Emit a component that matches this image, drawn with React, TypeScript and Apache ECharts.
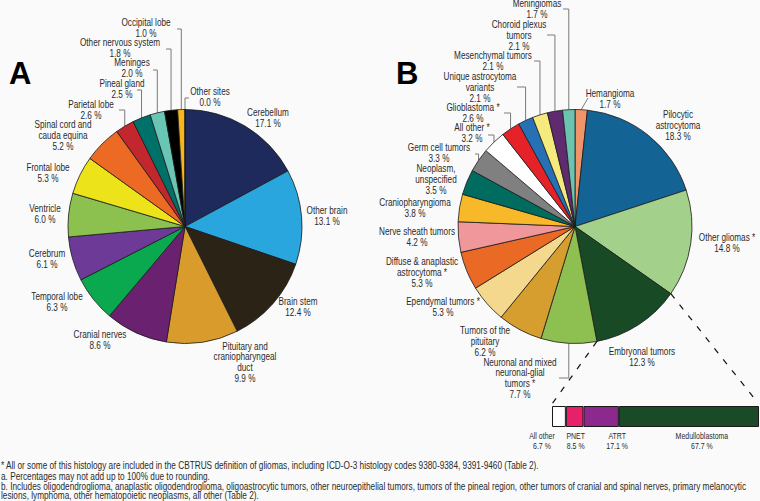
import React, { useEffect, useRef } from "react";
import * as echarts from "echarts";

// ---------- DATA ----------
const siteNames = [
  "Cerebellum",
  "Other brain",
  "Brain stem",
  "Pituitary and\ncraniopharyngeal\nduct",
  "Cranial nerves",
  "Temporal lobe",
  "Cerebrum",
  "Ventricle",
  "Frontal lobe",
  "Spinal cord and\ncauda equina",
  "Parietal lobe",
  "Pineal gland",
  "Meninges",
  "Other nervous system",
  "Occipital lobe",
  "Other sites",
];
const siteValues = [17.1, 13.1, 12.4, 9.9, 8.6, 6.3, 6.1, 6.0, 5.3, 5.2, 2.6, 2.5, 2.0, 1.8, 1.0, 0.0];
const siteColors = [
  "#1f2a5c", "#2aa6de", "#2b2316", "#d99b2b", "#6a2270", "#0aa84f", "#6e3a98", "#8cc04f",
  "#ede31b", "#ec6a24", "#c1272d", "#007168", "#6ac6b4", "#000000", "#f7b51f", "#f7b51f",
];

const histNames = [
  "Hemangioma",
  "Pilocytic\nastrocytoma",
  "Other gliomas *",
  "Embryonal tumors",
  "Neuronal and mixed\nneuronal-glial\ntumors *",
  "Tumors of the\npituitary",
  "Ependymal tumors *",
  "Diffuse & anaplastic\nastrocytoma *",
  "Nerve sheath tumors",
  "Craniopharyngioma",
  "Neoplasm,\nunspecified",
  "Germ cell tumors",
  "All other *",
  "Glioblastoma *",
  "Unique astrocytoma\nvariants",
  "Mesenchymal tumors",
  "Choroid plexus\ntumors",
  "Meningiomas",
];
const histValues = [1.7, 18.3, 14.8, 12.3, 7.7, 6.2, 5.3, 5.3, 4.2, 3.8, 3.5, 3.3, 3.2, 2.6, 2.1, 2.1, 2.1, 1.7];
const histColors = [
  "#f0956a", "#136394", "#a3d08b", "#184a26", "#8dc050", "#d69e2e", "#f4d88e", "#ea6a25",
  "#f0979b", "#f7b92a", "#006b5f", "#808080", "#ffffff", "#e52228", "#2670b5", "#f5ea7e",
  "#5f2a6e", "#6cc4b0",
];

const embryoNames = ["All other", "PNET", "ATRT", "Medulloblastoma"];
const embryoValues = [6.7, 8.5, 17.1, 67.7];
const embryoColors = ["#ffffff", "#e8206a", "#8b2a8c", "#1b4a29"];

const footnotes = [
  "* All or some of this histology are included in the CBTRUS definition of gliomas, including ICD-O-3 histology codes 9380-9384, 9391-9460 (Table 2).",
  "a. Percentages may not add up to 100% due to rounding.",
  "b. Includes oligodendroglioma, anaplastic oligodendroglioma, oligoastrocytic tumors, other neuroepithelial tumors, tumors of the pineal region, other tumors of cranial and spinal nerves, primary melanocytic",
  "lesions, lymphoma, other hematopoietic neoplasms, all other (Table 2).",
];

// ---------- LAYOUT ----------
const SANS = "'Liberation Sans', Arial, Helvetica, sans-serif";
const NARROW_X = 0.82; // horizontal squeeze to imitate a narrow face
const TEXT = "#2a2a2a";
const BG = "#fafafa";

const PIE_A = { cx: 185, cy: 226.5, r: 117 };
const PIE_B = { cx: 575, cy: 226.5, r: 117 };

const labelPosA: [number, number][] = [
  [268, 118.5], [327, 216.5], [298, 307.5], [245, 362.5], [100, 340.5], [57, 302.5],
  [47, 259.5], [45, 214.5], [48, 173.5], [63, 136], [91, 110.5], [122, 89.5],
  [132, 68], [120, 48], [146, 28], [210, 97.5],
];
const leaderA: Record<number, [number, number]> = {
  10: [119, 110], 11: [137, 90], 12: [153, 70], 13: [166, 49], 14: [177, 29], 15: [189, 98],
};

const labelPosB: [number, number][] = [
  [610, 99], [678, 125.5], [727, 243], [642, 357.5], [520, 378.5], [485, 341.5],
  [443, 307.5], [422, 272.5], [417, 237], [415, 208], [436, 180], [439, 153],
  [472, 133], [473, 113], [480, 87.5], [493, 61], [519, 35.5], [537, 9.5],
];
const leaderB: Record<number, [number, number]> = {
  4: [559, 378], 11: [475, 154], 12: [488, 135], 13: [504, 113], 14: [517, 87],
  15: [534, 61], 16: [547, 35], 17: [563, 9],
};
const slantB: Record<number, [number, number]> = { 0: [588, 98] };

const BAR = { left: 552, top: 406, width: 207, height: 21 };
const barLabelDx = [-17, 1, 16, 13];
const footY = [466, 477, 487, 496];

function sliceFrac(values: number[], i: number, at: number) {
  const total = values.reduce((a, b) => a + b, 0);
  let before = 0;
  for (let j = 0; j < i; j++) before += values[j];
  return (before + values[i] * at) / total;
}
function edgePoint(values: number[], i: number, at: number, pie: { cx: number; cy: number; r: number }) {
  const a = sliceFrac(values, i, at) * Math.PI * 2;
  return [pie.cx + pie.r * Math.sin(a), pie.cy - pie.r * Math.cos(a)];
}

function txt(x: number, y: number, text: string, size: number, lineHeight: number, align = "center") {
  return {
    type: "text",
    x,
    y,
    scaleX: NARROW_X,
    silent: true,
    style: {
      text,
      x: 0,
      y: 0,
      fontFamily: SANS,
      fontSize: size,
      lineHeight,
      fill: TEXT,
      align,
      verticalAlign: "middle",
    },
  };
}

function pieSeries(names: string[], values: number[], colors: string[], pie: { cx: number; cy: number; r: number }) {
  return {
    type: "pie",
    center: [pie.cx, pie.cy],
    radius: pie.r,
    startAngle: 90,
    clockwise: true,
    silent: true,
    label: { show: false },
    labelLine: { show: false },
    itemStyle: { borderColor: "#1a1a1a", borderWidth: 0.8 },
    data: names.map((n, i) => ({ name: n.replace(/\n/g, " "), value: values[i], itemStyle: { color: colors[i] } })),
  };
}

function pieAnnotations(
  names: string[], values: number[], pie: { cx: number; cy: number; r: number },
  pos: [number, number][], leaders: Record<number, [number, number]>, slants: Record<number, [number, number]>
) {
  const out: any[] = [];
  names.forEach((n, i) => {
    const [x0, y0] = edgePoint(values, i, 0.5, pie);
    let pts: number[][] | null = null;
    if (leaders[i]) {
      const [xL, yL] = leaders[i];
      pts = [[x0, y0], [x0, yL], [xL, yL]];
    } else if (slants[i]) {
      pts = [[x0, y0], slants[i]];
    }
    if (pts) {
      out.push({ type: "polyline", silent: true, shape: { points: pts }, style: { stroke: "#7a7a7a", lineWidth: 1, fill: "none" } });
    }
    out.push(txt(pos[i][0], pos[i][1], `${n}\n${values[i].toFixed(1)} %`, 10, 10.8));
  });
  return out;
}

export default function App() {
  const ref = useRef<HTMLDivElement>(null);
  useEffect(() => {
    if (!ref.current) return;
    const chart = echarts.init(ref.current, undefined, { renderer: "svg" });

    const embStart = edgePoint(histValues, 3, 0, PIE_B);
    const embEnd = edgePoint(histValues, 3, 1, PIE_B);

    const graphic: any[] = [
      { type: "text", left: 9, top: 58, silent: true, style: { text: "A", font: `bold 31px ${SANS}`, fill: "#000" } },
      { type: "text", left: 396, top: 58, silent: true, style: { text: "B", font: `bold 31px ${SANS}`, fill: "#000" } },
      {
        type: "line",
        shape: { x1: embEnd[0], y1: embEnd[1], x2: BAR.left, y2: BAR.top - 2 },
        style: { stroke: "#111", lineWidth: 1.2, lineDash: [6, 8] },
        silent: true,
      },
      {
        type: "line",
        shape: { x1: embStart[0], y1: embStart[1], x2: BAR.left + BAR.width - 1, y2: BAR.top - 3 },
        style: { stroke: "#111", lineWidth: 1.2, lineDash: [6, 8] },
        silent: true,
      },
      ...pieAnnotations(siteNames, siteValues, PIE_A, labelPosA, leaderA, {}),
      ...pieAnnotations(histNames, histValues, PIE_B, labelPosB, leaderB, slantB),
    ];

    // bar segment labels
    const barTotal = embryoValues.reduce((a, b) => a + b, 0);
    let cum = 0;
    embryoNames.forEach((n, i) => {
      const mid = BAR.left + (BAR.width * (cum + embryoValues[i] / 2)) / barTotal + barLabelDx[i];
      cum += embryoValues[i];
      graphic.push(txt(mid, BAR.top + BAR.height + 14.5, `${n}\n${embryoValues[i].toFixed(1)} %`, 8.5, 10));
    });

    footnotes.forEach((t, i) => {
      graphic.push(txt(1, footY[i], t, 10.05, 11, "left"));
    });

    chart.setOption({
      animation: false,
      backgroundColor: BG,
      grid: [{ left: BAR.left, top: BAR.top, width: BAR.width, height: BAR.height, containLabel: false }],
      xAxis: [{ type: "value", gridIndex: 0, min: 0, max: 100, show: false }],
      yAxis: [{ type: "category", gridIndex: 0, data: ["Embryonal tumors"], show: false }],
      series: [
        pieSeries(siteNames, siteValues, siteColors, PIE_A),
        pieSeries(histNames, histValues, histColors, PIE_B),
        ...embryoNames.map((n, i) => ({
          type: "bar",
          name: n,
          stack: "emb",
          xAxisIndex: 0,
          yAxisIndex: 0,
          barWidth: BAR.height,
          silent: true,
          data: [embryoValues[i]],
          itemStyle: { color: embryoColors[i], borderColor: "#1a1a1a", borderWidth: 1 },
          label: { show: false },
        })),
      ],
      graphic,
    });
    return () => chart.dispose();
  }, []);
  return <div ref={ref} style={{ position: "absolute", left: 0, top: 0, width: 760, height: 501 }} />;
}
